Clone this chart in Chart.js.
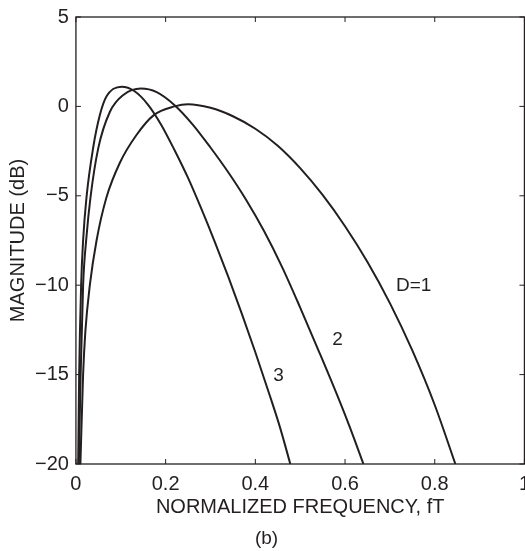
<!DOCTYPE html>
<html>
<head>
<meta charset="utf-8">
<script src="https://cdn.jsdelivr.net/npm/chart.js@4.4.1/dist/chart.umd.min.js"></script>
<style>
  html, body { margin: 0; padding: 0; background: #fff; overflow: hidden; }
</style>
</head>
<body>
<canvas id="magChart" width="540" height="551"></canvas>
<script>
// Valores (fT, dB)
const freqD1 = [0.010, 0.016, 0.021, 0.031, 0.046, 0.068, 0.098, 0.135, 0.173, 0.220, 0.250, 0.300, 0.350, 0.400, 0.450, 0.500, 0.550, 0.600, 0.650, 0.700, 0.750, 0.800, 0.846];
const magD1  = [-20, -15, -12.6, -10, -7.5, -5.1, -3.15, -1.6, -0.5, 0.0, 0.12, -0.08, -0.55, -1.25, -2.2, -3.45, -4.95, -6.7, -8.7, -11.0, -13.65, -16.7, -20];

const freqD2 = [0.0065, 0.0105, 0.016, 0.0235, 0.0324, 0.0497, 0.0758, 0.1056, 0.145, 0.180, 0.220, 0.260, 0.300, 0.340, 0.380, 0.420, 0.460, 0.500, 0.540, 0.580, 0.610, 0.641];
const magD2  = [-20, -15, -10, -7.3, -5.1, -2.35, -0.3, 0.64, 1.0, 0.8, 0.07, -1.0, -2.3, -3.7, -5.25, -7.0, -9.0, -11.25, -13.6, -16.0, -17.9, -20];

const freqD3 = [0.005, 0.0072, 0.0116, 0.016, 0.0235, 0.0385, 0.0535, 0.068, 0.102, 0.130, 0.160, 0.190, 0.220, 0.250, 0.280, 0.310, 0.340, 0.370, 0.400, 0.430, 0.455, 0.478];
const magD3  = [-20, -15, -10, -7.5, -5.1, -2.3, -0.47, 0.55, 1.1, 0.86, 0.12, -1.02, -2.45, -4.0, -5.75, -7.6, -9.55, -11.6, -13.75, -16.0, -17.95, -20];

const xTicks = [0, 0.2, 0.4, 0.6, 0.8, 1];
const yTicks = [5, 0, -5, -10, -15, -20];

// Etiquetas de las curvas
const curveNames = ['D=1', '2', '3'];
const labelX = [0.753, 0.583, 0.452];
const labelY = [-10.04, -13.07, -15.08];

const ink = '#231f20';
const fontFamily = "'Liberation Sans', Arial, Helvetica, sans-serif";

function toPoints(xs, ys) {
    return xs.map((x, i) => ({ x: x, y: ys[i] }));
}

function curve(label, xs, ys) {
    return {
        label: label,
        data: toPoints(xs, ys),
        borderColor: ink,
        borderWidth: 2,
        pointRadius: 0,
        fill: false,
        cubicInterpolationMode: 'monotone'
    };
}

// Marco con marcas hacia adentro y nombres de curvas
const framePlugin = {
    id: 'frame',
    afterDatasetsDraw(chart) {
        const ctx = chart.ctx;
        const a = chart.chartArea;
        const xs = chart.scales.x;
        const ys = chart.scales.y;
        ctx.save();
        ctx.strokeStyle = ink;
        ctx.lineWidth = 1.3;
        ctx.strokeRect(a.left, a.top, a.right - a.left, a.bottom - a.top);
        ctx.beginPath();
        xTicks.forEach(v => {
            const px = xs.getPixelForValue(v);
            ctx.moveTo(px, a.bottom); ctx.lineTo(px, a.bottom - 5);
            ctx.moveTo(px, a.top); ctx.lineTo(px, a.top + 5);
        });
        yTicks.forEach(v => {
            const py = ys.getPixelForValue(v);
            ctx.moveTo(a.left, py); ctx.lineTo(a.left + 5, py);
            ctx.moveTo(a.right, py); ctx.lineTo(a.right - 5, py);
        });
        ctx.lineWidth = 1;
        ctx.stroke();

        ctx.fillStyle = ink;
        ctx.font = '19px ' + fontFamily;
        ctx.textAlign = 'center';
        ctx.textBaseline = 'middle';
        curveNames.forEach((name, i) => {
            ctx.fillText(name, xs.getPixelForValue(labelX[i]), ys.getPixelForValue(labelY[i]));
        });
        ctx.restore();
    }
};

const ctx = document.getElementById('magChart').getContext('2d');
const magChart = new Chart(ctx, {
    type: 'line',
    data: {
        datasets: [
            curve('D=1', freqD1, magD1),
            curve('D=2', freqD2, magD2),
            curve('D=3', freqD3, magD3)
        ]
    },
    options: {
        responsive: false,
        animation: false,
        layout: {
            padding: { left: 2, right: 9, top: 12, bottom: 0 }
        },
        plugins: {
            legend: { display: false },
            tooltip: { enabled: false },
            title: {
                display: true,
                position: 'bottom',
                text: '(b)',
                color: ink,
                font: { family: fontFamily, size: 19, weight: 'normal', lineHeight: 1.0 },
                padding: { top: 8, bottom: 3 }
            }
        },
        scales: {
            x: {
                type: 'linear',
                min: 0,
                max: 1,
                afterBuildTicks: axis => { axis.ticks = xTicks.map(v => ({ value: v })); },
                grid: { display: false, drawTicks: false },
                border: { display: false },
                ticks: {
                    color: ink,
                    padding: 10,
                    maxRotation: 0,
                    font: { family: fontFamily, size: 20, lineHeight: 1.0 },
                    callback: v => String(+v.toFixed(2))
                },
                title: {
                    display: true,
                    text: 'NORMALIZED FREQUENCY, fT',
                    color: ink,
                    font: { family: fontFamily, size: 20, lineHeight: 1.0 },
                    padding: { top: -7, bottom: 4 }
                }
            },
            y: {
                min: -20,
                max: 5,
                afterBuildTicks: axis => { axis.ticks = yTicks.map(v => ({ value: v })); },
                grid: { display: false, drawTicks: false },
                border: { display: false },
                ticks: {
                    color: ink,
                    padding: 7,
                    font: { family: fontFamily, size: 20, lineHeight: 1.0 },
                    callback: v => v < 0 ? '\u2212' + Math.abs(v) : String(v)
                },
                title: {
                    display: true,
                    text: 'MAGNITUDE (dB)',
                    color: ink,
                    font: { family: fontFamily, size: 20, lineHeight: 1.0 },
                    padding: { top: 6, bottom: 0 }
                }
            }
        }
    },
    plugins: [framePlugin]
});
</script>
</body>
</html>
